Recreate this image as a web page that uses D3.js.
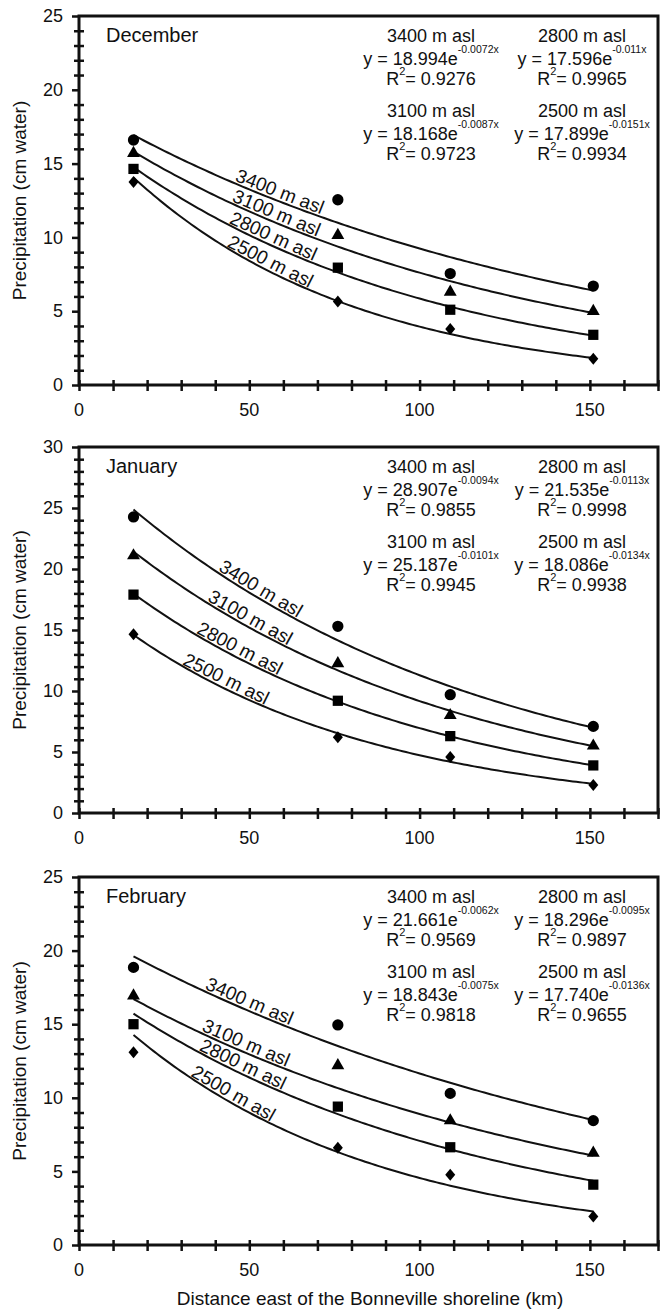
<!DOCTYPE html>
<html>
<head>
<meta charset="utf-8">
<script src="https://cdn.jsdelivr.net/npm/d3@7/dist/d3.min.js"></script>
<style>
  body { margin: 0; background: #fff; }
  svg text { font-family: "Liberation Sans", Arial, sans-serif; fill: #111; }
</style>
</head>
<body>
<div id="chart"></div>
<script>
// --- data ---
var monthNames = ["December", "January", "February"];
var elevations = ["3400 m asl", "3100 m asl", "2800 m asl", "2500 m asl"];
var distanceKm = [16, 76, 109, 151];
var yMax = [25, 30, 25];
var xTickLabels = [0, 50, 100, 150];

// precipitation (cm water), rows = elevations, cols = distances
var decPrecip = [
    [16.6, 12.55, 7.55, 6.7],
    [15.7, 10.15, 6.3, 5.0],
    [14.64, 7.95, 5.1, 3.4],
    [13.75, 5.65, 3.8, 1.77]
];
var janPrecip = [
    [24.27, 15.3, 9.7, 7.1],
    [21.1, 12.25, 8.0, 5.5],
    [17.9, 9.2, 6.3, 3.9],
    [14.65, 6.2, 4.6, 2.3]
];
var febPrecip = [
    [18.86, 14.95, 10.3, 8.45],
    [16.93, 12.2, 8.45, 6.25],
    [15.0, 9.4, 6.64, 4.1],
    [13.1, 6.6, 4.77, 1.93]
];

// fitted exponential curves y = a * e^(b x), same order as elevations
var decCoef = ["18.994", "18.168", "17.596", "17.899"];
var decExp = ["-0.0072x", "-0.0087x", "-0.011x", "-0.0151x"];
var decR2 = ["0.9276", "0.9723", "0.9965", "0.9934"];
var janCoef = ["28.907", "25.187", "21.535", "18.086"];
var janExp = ["-0.0094x", "-0.0101x", "-0.0113x", "-0.0134x"];
var janR2 = ["0.9855", "0.9945", "0.9998", "0.9938"];
var febCoef = ["21.661", "18.843", "18.296", "17.740"];
var febExp = ["-0.0062x", "-0.0075x", "-0.0095x", "-0.0136x"];
var febR2 = ["0.9569", "0.9818", "0.9897", "0.9655"];

// --- layout ---
var width = 660;
var height = 1312;
var panelTop = [16, 447, 877];
var panelBottom = [385, 813, 1245];
var labelCenter = [[58, 57, 56, 55], [52, 49, 46, 42], [49, 48, 47, 44]];
// equation block placement: [column center x, first line offset]
var eqPlace = [[431, 0], [431, 75], [582, 0], [582, 75]]; // 3400, 3100, 2800, 2500

var panels = [
    {precip: decPrecip, coef: decCoef, exp: decExp, r2: decR2},
    {precip: janPrecip, coef: janCoef, exp: janExp, r2: janR2},
    {precip: febPrecip, coef: febCoef, exp: febExp, r2: febR2}
];

var svg = d3.select("#chart")
    .append("svg")
    .attr("width", width)
    .attr("height", height);

var x = d3.scaleLinear().domain([0, 170]).range([79, 658]);

// marker shapes
var diamond = {
    draw: function(ctx, size) {
        var r = Math.sqrt(size) / 2;
        ctx.moveTo(0, -r * 1.2);
        ctx.lineTo(r, 0);
        ctx.lineTo(0, r * 1.2);
        ctx.lineTo(-r, 0);
        ctx.closePath();
    }
};
var shapes = [
    d3.symbol().type(d3.symbolCircle).size(100),
    d3.symbol().type(d3.symbolTriangle).size(72),
    d3.symbol().type(d3.symbolSquare).size(105),
    d3.symbol().type(diamond).size(100)
];

panels.forEach(function(p, i) {
    var y = d3.scaleLinear().domain([0, yMax[i]]).range([panelBottom[i], panelTop[i]]);
    var g = svg.append("g");

    // y axis: major ticks outward, minor ticks crossing
    var yMajor = d3.range(0, yMax[i] + 1, 5);
    var yMinor = d3.range(0, yMax[i] + 1, 1).filter(function(v) { return v % 5 !== 0; });

    var ya = g.append("g")
        .attr("transform", "translate(" + x(0) + ",0)")
        .call(d3.axisLeft(y).tickValues(yMajor).tickSize(7).tickPadding(9).tickSizeOuter(0));
    ya.select(".domain").remove();
    ya.selectAll("line").attr("stroke", "#111").attr("stroke-width", 2.5);
    ya.selectAll("text").attr("font-size", "18px").attr("fill", "#222");

    var ym = g.append("g")
        .attr("transform", "translate(" + x(0) + ",0)")
        .call(d3.axisLeft(y).tickValues(yMinor).tickSize(0).tickFormat(""));
    ym.select(".domain").remove();
    ym.selectAll("line").attr("x1", -5).attr("x2", 5).attr("stroke", "#111").attr("stroke-width", 2.5);

    // x axis: ticks every 10 crossing the axis
    var xa = g.append("g")
        .attr("transform", "translate(0," + panelBottom[i] + ")")
        .call(d3.axisBottom(x).tickValues(d3.range(0, 171, 10)).tickSize(0).tickFormat(""));
    xa.select(".domain").remove();
    xa.selectAll("line").attr("y1", -5).attr("y2", 6).attr("stroke", "#111").attr("stroke-width", 2.5);

    g.selectAll(".xlab")
        .data(xTickLabels)
        .enter()
        .append("text")
        .attr("x", function(d) { return x(d); })
        .attr("y", panelBottom[i] + 31)
        .attr("text-anchor", "middle")
        .attr("font-size", "18px")
        .attr("fill", "#222")
        .text(function(d) { return d; });

    // frame
    g.append("rect")
        .attr("x", x(0))
        .attr("y", panelTop[i])
        .attr("width", x(170) - x(0))
        .attr("height", panelBottom[i] - panelTop[i])
        .attr("fill", "none")
        .attr("stroke", "#111")
        .attr("stroke-width", 3);

    // month label
    g.append("text")
        .attr("x", 106)
        .attr("y", panelTop[i] + 26)
        .attr("font-size", "20px")
        .text(monthNames[i]);

    // fitted curves
    var line = d3.line()
        .x(function(d) { return x(d[0]); })
        .y(function(d) { return y(d[1]); });

    p.coef.forEach(function(c, k) {
        var a = +c;
        var b = parseFloat(p.exp[k]);
        var xs = d3.range(distanceKm[0], distanceKm[3] + 0.01, 1);
        var pts = xs.map(function(v) { return [v, a * Math.exp(b * v)]; });
        g.append("path")
            .datum(pts)
            .attr("d", line)
            .attr("fill", "none")
            .attr("stroke", "#111")
            .attr("stroke-width", 2);

        // label along the curve
        var lx = labelCenter[i][k];
        var px = x(lx), py = y(a * Math.exp(b * lx));
        var px2 = x(lx + 1), py2 = y(a * Math.exp(b * (lx + 1)));
        var ang = Math.atan2(py2 - py, px2 - px) * 180 / Math.PI;
        g.append("text")
            .attr("transform", "translate(" + px + "," + py + ") rotate(" + ang + ")")
            .attr("y", -3)
            .attr("text-anchor", "middle")
            .attr("font-size", "19px")
            .text(elevations[k]);

        // equation block
        var cx = eqPlace[k][0];
        var top = panelTop[i] + 26 + eqPlace[k][1];
        g.append("text")
            .attr("x", cx).attr("y", top)
            .attr("text-anchor", "middle")
            .attr("font-size", "18px")
            .text(elevations[k]);
        var eq = g.append("text")
            .attr("x", cx).attr("y", top + 23)
            .attr("text-anchor", "middle")
            .attr("font-size", "18px");
        eq.append("tspan").text("y = " + c + "e");
        eq.append("tspan").attr("dy", -12).attr("font-size", "10.5px").text(p.exp[k]);
        var r = g.append("text")
            .attr("x", cx).attr("y", top + 43)
            .attr("text-anchor", "middle")
            .attr("font-size", "18px");
        r.append("tspan").text("R");
        r.append("tspan").attr("dy", -10).attr("font-size", "11px").text("2");
        r.append("tspan").attr("dy", 10).text("= " + p.r2[k]);
    });

    // data markers
    p.precip.forEach(function(row, k) {
        g.selectAll(".m" + k)
            .data(row)
            .enter()
            .append("path")
            .attr("d", shapes[k])
            .attr("transform", function(d, j) {
                return "translate(" + x(distanceKm[j]) + "," + y(d) + ")";
            })
            .attr("fill", "#000");
    });

    // y axis title
    svg.append("text")
        .attr("transform", "translate(26," + ((panelTop[i] + panelBottom[i]) / 2) + ") rotate(-90)")
        .attr("text-anchor", "middle")
        .attr("font-size", "19px")
        .attr("fill", "#222")
        .text("Precipitation (cm water)");
});

svg.append("text")
    .attr("x", 370)
    .attr("y", 1305)
    .attr("text-anchor", "middle")
    .attr("font-size", "19px")
    .attr("fill", "#222")
    .text("Distance east of the Bonneville shoreline (km)");
</script>
</body>
</html>
